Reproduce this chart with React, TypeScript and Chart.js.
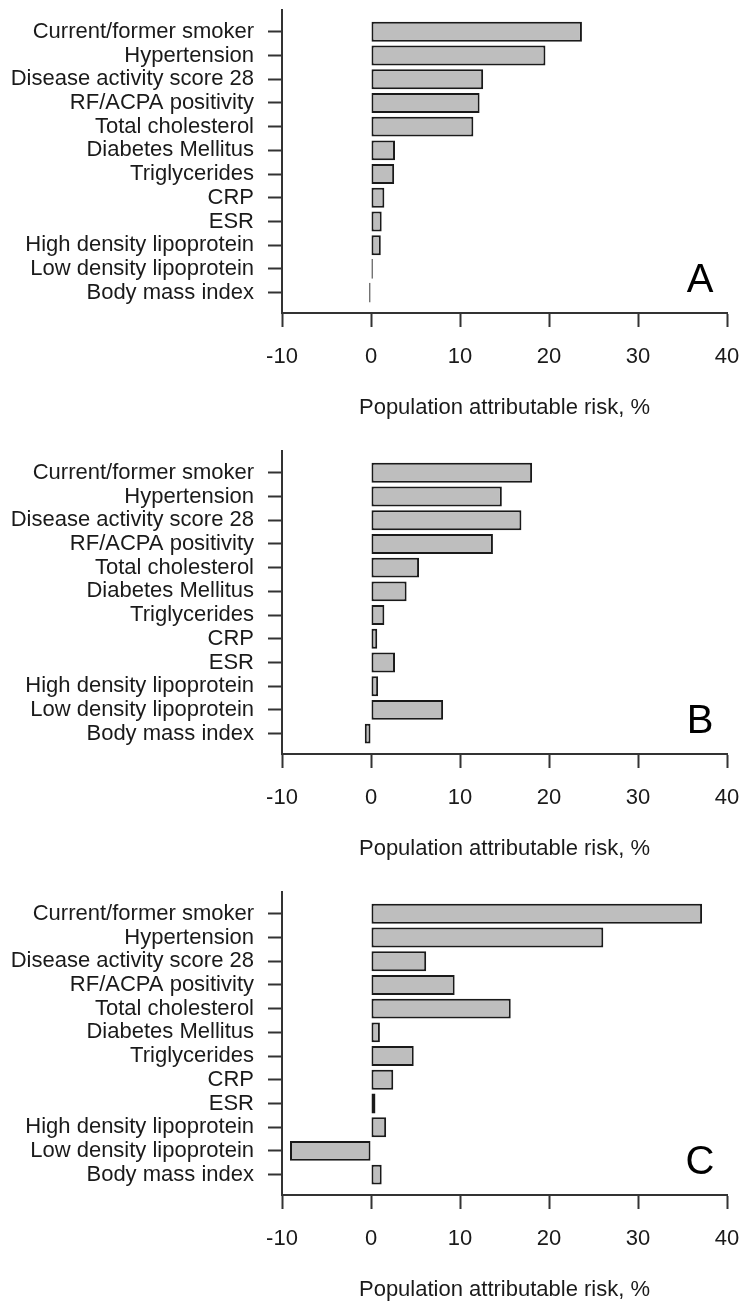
import React, { useEffect, useRef } from "react";
import { Chart, registerables } from "chart.js";

Chart.register(...registerables);

const categories: string[] = [
  "Current/former smoker",
  "Hypertension",
  "Disease activity score 28",
  "RF/ACPA positivity",
  "Total cholesterol",
  "Diabetes Mellitus",
  "Triglycerides",
  "CRP",
  "ESR",
  "High density lipoprotein",
  "Low density lipoprotein",
  "Body mass index",
];

const valuesA: number[] = [23.7, 19.6, 12.6, 12.2, 11.5, 2.7, 2.6, 1.5, 1.2, 1.1, 0.2, -0.2];
const valuesB: number[] = [18.1, 14.7, 16.9, 13.7, 5.4, 4.0, 1.5, 0.7, 2.7, 0.8, 8.1, -0.7];
const valuesC: number[] = [37.2, 26.1, 6.2, 9.4, 15.7, 1.0, 4.8, 2.5, 0.5, 1.7, -9.1, 1.2];

const panelLetters: string[] = ["A", "B", "C"];
const xTicks: number[] = [-10, 0, 10, 20, 30, 40];
const xTitle = "Population attributable risk, %";

const FONT = "'Liberation Sans', Arial, Helvetica, sans-serif";
const W = 741;
const H = 441;
const INK = "#1a1a1a";
const AXIS = "#333333";

function Panel({ values, letter }: { values: number[]; letter: string }) {
  const ref = useRef<HTMLCanvasElement | null>(null);
  useEffect(() => {
    if (!ref.current) return;
    const letterPlugin = {
      id: "panelLetter",
      afterDraw(chart: any) {
        const { ctx, chartArea } = chart;
        ctx.save();
        ctx.font = `40px ${FONT}`;
        ctx.fillStyle = "#000";
        ctx.textAlign = "center";
        ctx.textBaseline = "alphabetic";
        ctx.fillText(letter, chartArea.right - 27, chartArea.bottom - 21);
        ctx.restore();
      },
    };
    const chart = new Chart(ref.current, {
      type: "bar",
      data: {
        datasets: [
          {
            data: values.map((v, i) => ({ x: v, y: i })),
            backgroundColor: "#bebebe",
            borderColor: "#1a1a1a",
            borderWidth: 2,
            borderSkipped: false,
            categoryPercentage: 1,
            barPercentage: 0.84,
          } as any,
        ],
      },
      options: {
        indexAxis: "y",
        animation: false,
        responsive: false,
        devicePixelRatio: 1,
        layout: { padding: { top: 10, right: 14, left: 0, bottom: 0 } },
        plugins: {
          legend: { display: false },
          tooltip: { enabled: false },
          title: { display: false },
        },
        scales: {
          y: {
            type: "linear",
            min: -0.92,
            max: 11.86,
            reverse: true,
            offset: false,
            afterBuildTicks(scale: any) {
              scale.ticks = categories.map((_, i) => ({ value: i }));
            },
            afterFit(scale: any) {
              scale.width = 282;
              scale.paddingTop = 0;
              scale.paddingBottom = 0;
            },
            ticks: {
              autoSkip: false,
              padding: 14,
              color: INK,
              font: { family: FONT, size: 22 },
              callback: (v: any) => categories[v as number] ?? "",
            },
            grid: {
              offset: false,
              drawOnChartArea: false,
              drawTicks: true,
              tickLength: 14,
              color: AXIS,
              tickColor: AXIS,
              tickWidth: 2,
            },
            border: { display: true, color: AXIS, width: 2 },
          },
          x: {
            type: "linear",
            min: -10,
            max: 40,
            afterBuildTicks(scale: any) {
              scale.ticks = xTicks.map((v) => ({ value: v }));
            },
            afterFit(scale: any) {
              scale.height = H - 313;
              scale.paddingLeft = 0;
              scale.paddingRight = 0;
            },
            ticks: {
              autoSkip: false,
              maxRotation: 0,
              padding: 17,
              color: INK,
              font: { family: FONT, size: 22 },
            },
            grid: {
              drawOnChartArea: false,
              drawTicks: true,
              tickLength: 14,
              color: AXIS,
              tickColor: AXIS,
              tickWidth: 2,
            },
            border: { display: true, color: AXIS, width: 2 },
            title: {
              display: true,
              text: xTitle,
              color: INK,
              font: { family: FONT, size: 22 },
              padding: { top: 0, bottom: 20 },
            },
          },
        },
      },
      plugins: [letterPlugin],
    });
    return () => chart.destroy();
  }, [values, letter]);
  return <canvas ref={ref} width={W} height={H} style={{ display: "block", width: W, height: H }} />;
}

export default function App() {
  const all = [valuesA, valuesB, valuesC];
  return (
    <div
      style={{
        position: "absolute",
        left: 0,
        top: 0,
        width: W,
        height: 1301,
        overflow: "hidden",
        background: "#fff",
      }}
    >
      {all.map((vals, i) => (
        <div key={i} style={{ position: "absolute", left: 0, top: i * H, width: W, height: H }}>
          <Panel values={vals} letter={panelLetters[i]} />
        </div>
      ))}
    </div>
  );
}
